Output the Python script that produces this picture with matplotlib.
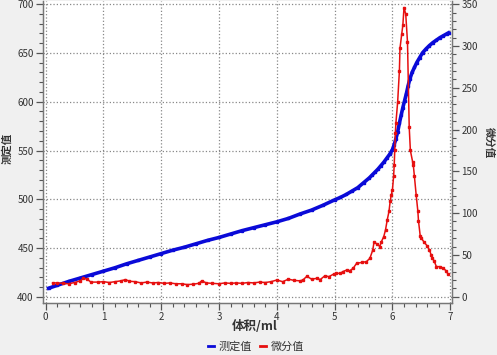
import matplotlib
matplotlib.use('Agg')
import matplotlib.pyplot as plt
from matplotlib.ticker import MultipleLocator

plt.rcParams['font.family'] = ['Noto Sans CJK SC', 'DejaVu Sans']

# ===== 测定值 (left axis) =====
vol_meas = [0.05, 0.2, 0.4, 0.6, 0.8, 1.0, 1.2, 1.4, 1.6, 1.8, 2.0, 2.2, 2.4, 2.6, 2.8,
            3.0, 3.2, 3.4, 3.6, 3.8, 4.0, 4.2, 4.4, 4.6, 4.8, 5.0, 5.1, 5.2, 5.3, 5.4,
            5.5, 5.6, 5.65, 5.7, 5.75, 5.8, 5.85, 5.9, 5.95, 6.0, 6.03, 6.06, 6.09, 6.12,
            6.15, 6.18, 6.21, 6.24, 6.27, 6.30, 6.34, 6.38, 6.42, 6.47, 6.52, 6.58, 6.64,
            6.70, 6.76, 6.82, 6.88, 6.94, 6.97]
meas = [409, 412, 416, 419.5, 423, 426.5, 430, 434, 437.5, 441, 444.5, 448, 451, 454.5, 458,
        461, 464.5, 468, 471, 474, 477, 480.5, 485, 489, 494, 499.5, 502, 505, 508.5, 512,
        517, 522, 525, 528, 531, 534.5, 538, 542, 546, 551, 556, 562, 569, 578,
        586, 594, 601, 608, 616, 623, 630, 635, 640, 645, 650, 654, 657.5,
        660.5, 663, 665.5, 667.5, 669.5, 670.5]

# ===== 微分值 (right axis) =====
vol_diff = [0.12, 0.2, 0.3, 0.4, 0.5, 0.6, 0.65, 0.72, 0.78, 0.9, 1.0, 1.1, 1.2, 1.3, 1.38,
            1.45, 1.55, 1.65, 1.75, 1.85, 1.95, 2.05, 2.15, 2.25, 2.35, 2.45, 2.55, 2.65,
            2.7, 2.78, 2.88, 3.0, 3.1, 3.2, 3.3, 3.4, 3.5, 3.6, 3.7, 3.8, 3.9, 4.0, 4.1,
            4.2, 4.3, 4.4, 4.45, 4.52, 4.6, 4.69, 4.75, 4.83, 4.9, 4.98, 5.03, 5.1, 5.14,
            5.21, 5.26, 5.32, 5.38, 5.47, 5.55, 5.61, 5.66, 5.68, 5.74, 5.78, 5.81, 5.85,
            5.88, 5.91, 5.94, 5.96, 5.98, 6.00, 6.02, 6.03, 6.04, 6.05, 6.06, 6.09, 6.12,
            6.13, 6.16, 6.18, 6.20, 6.23, 6.26, 6.29, 6.31, 6.35, 6.36, 6.38, 6.41, 6.44,
            6.45, 6.48, 6.50, 6.55, 6.60, 6.64, 6.67, 6.69, 6.72, 6.76, 6.82, 6.88, 6.93, 6.96]
diff = [16.5, 16.5, 16, 15.5, 17, 19, 22, 21, 17.5, 17.5, 18, 17, 18, 19, 20.5,
        18.5, 18, 16.5, 17.5, 16.5, 17, 16, 16.5, 15.5, 15.5, 14.5, 15, 16,
        19, 16.5, 16, 15.5, 16.5, 16, 16.5, 16, 17, 16.5, 17.5, 17, 18, 20, 18,
        21, 19.5, 19, 20, 24.5, 21, 22, 20.5, 25, 24, 27, 28, 28, 30,
        32, 31, 34, 40, 41, 42, 46, 56, 65, 63, 60, 66, 72,
        80, 92, 102, 114, 122, 128, 144, 157, 175, 196, 208, 233, 270,
        297, 314, 325, 346, 338, 305, 203, 175, 161, 158, 144, 122, 102,
        91, 73, 70, 65, 61, 56, 50, 46, 43, 36, 36, 34, 31, 27]

BLUE = '#0a0ad8'
RED = '#e60f0f'
TXT = '#333333'

fig = plt.figure(figsize=(4.97, 3.55), dpi=100, facecolor='#f0f0f0')
ax = fig.add_axes([0.0859, 0.1465, 0.8241, 0.8505])
ax.set_facecolor('white')
ax2 = ax.twinx()

ax.plot(vol_meas, meas, color=BLUE, lw=2.6, marker='s', ms=1.6, label='测定值')
ax2.plot(vol_diff, diff, color=RED, lw=1.1, marker='s', ms=1.6, label='微分值')

ax.set_xlim(-0.052, 7.035)
ax.set_ylim(393.9, 703)
ax2.set_ylim(-7.5, 353.7)

ax.xaxis.set_major_locator(MultipleLocator(1))
ax.xaxis.set_minor_locator(MultipleLocator(0.2))
ax.yaxis.set_major_locator(MultipleLocator(50))
ax.yaxis.set_minor_locator(MultipleLocator(10))
ax2.yaxis.set_major_locator(MultipleLocator(50))
ax2.yaxis.set_minor_locator(MultipleLocator(10))

ax.grid(True, which='major', linestyle=':', color='#888888', lw=0.9)

for a in (ax, ax2):
    a.tick_params(which='major', length=5, width=0.9, colors='#555555', labelcolor=TXT,
                  labelsize=7, pad=1.5)
    a.tick_params(which='minor', length=3, width=0.8, colors='#555555')
    for s in a.spines.values():
        s.set_color('#777777')
        s.set_linewidth(0.9)
ax.spines['top'].set_visible(False)
ax2.spines['top'].set_visible(False)

# axis titles placed in figure pixels like the reference
fig.text(255 / 497, 1 - 327 / 355, '体积/ml', fontsize=9, fontweight='bold', color=TXT,
         ha='center', va='center')
fig.text(7 / 497, 1 - 148 / 355, '测定值', fontsize=7.5, fontweight='bold', color=TXT,
         rotation=90, ha='center', va='center')
fig.text(489 / 497, 1 - 143 / 355, '微分值', fontsize=7.5, fontweight='bold', color=TXT,
         rotation=270, ha='center', va='center')

h1, l1 = ax.get_legend_handles_labels()
h2, l2 = ax2.get_legend_handles_labels()
leg = fig.legend(h1 + h2, l1 + l2, loc='center', bbox_to_anchor=(256 / 497, 1 - 347 / 355), ncol=2,
                 frameon=False, fontsize=8, handlelength=0.5, handletextpad=0.4,
                 columnspacing=0.8, borderpad=0)
for h in leg.legend_handles:
    h.set_marker('')
    h.set_linewidth(2)
for t in leg.get_texts():
    t.set_color(TXT)

fig.savefig('out.png', dpi=100, facecolor=fig.get_facecolor())
